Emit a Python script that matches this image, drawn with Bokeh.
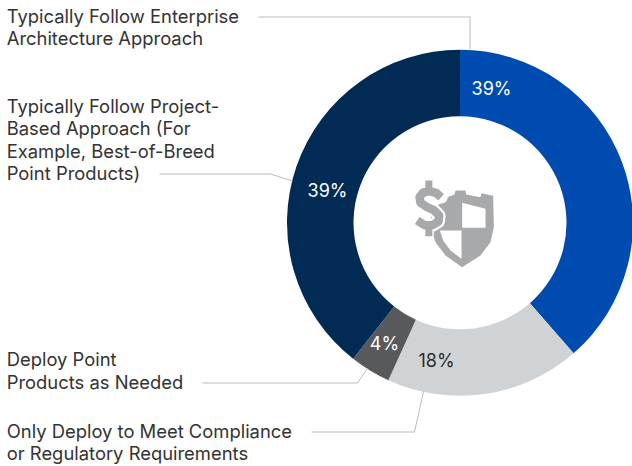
import math
from bokeh.plotting import figure
from bokeh.models import Range1d
from bokeh.core.properties import value
from bokeh.embed import file_html
from bokeh.resources import INLINE

categories = ["Typically Follow Enterprise\nArchitecture Approach",
              "Only Deploy to Meet Compliance\nor Regulatory Requirements",
              "Deploy Point\nProducts as Needed",
              "Typically Follow Project-\nBased Approach (For\nExample, Best-of-Breed\nPoint Products)"]
values = [38.6, 18.2, 3.8, 39.4]
pct_labels = ["39%", "18%", "4%", "39%"]
colors = ["#004bb0", "#d0d3d6", "#58595b", "#012a55"]
pct_colors = ["#ffffff", "#2b2b2b", "#ffffff", "#ffffff"]
pct_x = [491, 436, 384, 327]
pct_y = [88, 360, 343, 190]
FONT = "Inter"
W, H = 632, 466
Y = lambda v: H - v

p = figure(width=W, height=H, output_backend="svg", toolbar_location=None,
           x_range=Range1d(0, W), y_range=Range1d(0, H),
           min_border=0, margin=(0, 0, 0, 0), outline_line_color=None)
p.xaxis.visible = False
p.yaxis.visible = False
p.grid.visible = False
p.background_fill_color = "#ffffff"
p.border_fill_color = "#ffffff"

cx, cy, r_out, r_in = 459.5, 222.3, 173, 106.5
cum = 0
starts, ends = [], []
for v in values:
    starts.append(math.pi / 2 - cum / 100 * 2 * math.pi)
    cum += v
    ends.append(math.pi / 2 - cum / 100 * 2 * math.pi)
p.annular_wedge(x=[cx] * 4, y=[Y(cy)] * 4, inner_radius=r_in, outer_radius=r_out,
                start_angle=starts, end_angle=ends, direction="clock",
                fill_color=colors, line_color=None)

leaders = [[(258, 16.5), (469.5, 16.5), (469.5, 49)],
           [(311, 431.5), (414, 431.5), (423, 391)],
           [(202, 382.5), (357, 382.5), (367, 368)],
           [(159, 173.5), (270, 173.5), (292, 180.5)]]
p.multi_line([[a for a, b in l] for l in leaders], [[Y(b) for a, b in l] for l in leaders],
             line_color="#b9bbbd", line_width=1)

label_x = [6.2, 6.2, 6.2, 6.2]
label_y = [15.2, 430.2, 358.6, 105.2]
for t, x, y in zip(categories, label_x, label_y):
    for i, line in enumerate(t.split("\n")):
        p.text(x=[x], y=[Y(y + i * 22.4)], text=[line], text_font=value(FONT), text_font_size="18.4px",
               text_color="#333333", text_baseline="middle", text_align="left")

p.text(x=pct_x, y=[Y(v) for v in pct_y], text=pct_labels, text_color=pct_colors,
       text_font=value(FONT), text_font_size="18px", text_align="center", text_baseline="middle")

# icon (coordinates in 3x crop units around 400,170)
ix = lambda a: 400 + a / 3
iy = lambda b: Y(170 + b / 3)
GREY = "#a7a9ab"
shield = [(130,85),(162,72),(165,60),(195,60),(197,72),(240,80),(243,68),(278,76),(280,170),(270,215),(240,255),(185,290),(135,255),(105,215),(90,170),(92,130)]
q1 = [(185,97),(255,115),(255,172),(185,172)]
q2 = [(118,180),(183,180),(183,265),(150,240),(128,210)]
p.patch([ix(a) for a, b in shield], [iy(b) for a, b in shield], fill_color=GREY, line_color=None)
p.patches([[ix(a) for a, b in q] for q in (q1, q2)], [[iy(b) for a, b in q] for q in (q1, q2)],
          fill_color="#ffffff", line_color=None)
S = [(122,80),(108,68),(88,62),(68,66),(57,80),(60,97),(78,109),(100,119),(116,135),(114,153),(96,164),(72,164),(50,150)]
bars = [[(85,30),(85,60)], [(85,165),(85,197)]]
p.line([ix(a) for a, b in S], [iy(b) for a, b in S], line_color="#ffffff", line_width=13, line_cap="round", line_join="round")
p.multi_line([[ix(a) for a, b in bb] for bb in bars], [[iy(b) for a, b in bb] for bb in bars], line_color="#ffffff", line_width=10)
p.line([ix(a) for a, b in S], [iy(b) for a, b in S], line_color=GREY, line_width=8.5, line_join="round")
p.multi_line([[ix(a) for a, b in bb] for bb in bars], [[iy(b) for a, b in bb] for bb in bars], line_color=GREY, line_width=7)

open("out.html", "w").write(file_html(p, INLINE))
